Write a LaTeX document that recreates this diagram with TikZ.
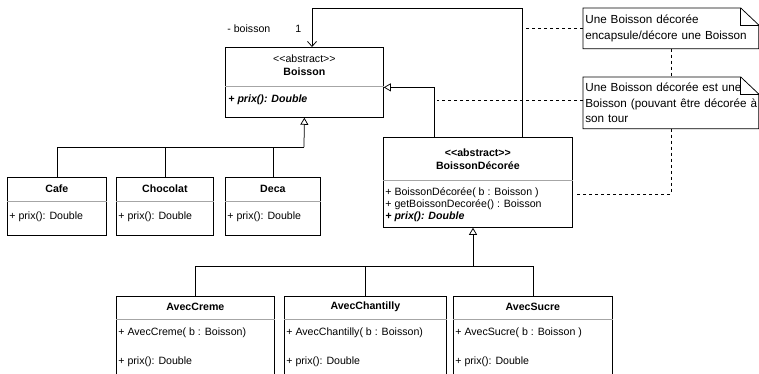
\documentclass[tikz,border=0pt]{standalone}
\usepackage{fontspec}
\setmainfont{Liberation Sans}
\usetikzlibrary{arrows.meta}

\begin{document}
\begin{tikzpicture}[x=1pt,y=-1pt,line width=0.75pt,
  classbox/.style={draw,anchor=north west,inner sep=0pt},
  classname/.style={font=\fontsize{10.6}{13}\selectfont\bfseries,inner sep=0pt},
  stereo/.style={font=\fontsize{10.6}{13}\selectfont,inner sep=0pt},
  member/.style={font=\fontsize{10.6}{13}\selectfont,anchor=west,inner sep=0pt},
  divider/.style={draw=black!35},
  gen/.style={-{Triangle[open,length=7pt,width=8pt]}},
  assoc/.style={-{Straight Barb[length=5pt,width=9pt]}},
  notebox/.style={anchor=north west,minimum width=175pt,text width=171pt,inner sep=2pt,
    align=left,font=\fontsize{11.7}{15.5}\selectfont},
  notelink/.style={dash pattern=on 3pt off 3pt}]
  \useasboundingbox (0,0) rectangle (759,374);
  \clip (0,0) rectangle (759,374);

  % Boisson
  \node[classbox,minimum width=158pt,minimum height=70pt] (boisson) at (225,47) {};
  \node[stereo] (boisson-stereo) at (boisson.north |- 0,59) {<\kern0pt<abstract>\kern0pt>};
  \node[classname] (boisson-title) at (boisson.north |- 0,72) {Boisson};
  \draw[divider] (boisson.west |- 0,86) -- (boisson.east |- 0,86);
  \node[member,font=\fontsize{10.6}{13}\selectfont\bfseries\itshape] (boisson-prix) at (228,100) {+ prix(): Double};

  % BoissonDecoree
  \node[classbox,minimum width=189pt,minimum height=90pt] (bdeco) at (383,137) {};
  \node[classname] (bdeco-stereo) at (bdeco.north |- 0,153) {<\kern0pt<abstract>\kern0pt>};
  \node[classname] (bdeco-title) at (bdeco.north |- 0,166) {BoissonDécorée};
  \draw[divider] (bdeco.west |- 0,180) -- (bdeco.east |- 0,180);
  \node[member] (bdeco-ctor) at (385,193) {+ BoissonDécorée( b : Boisson )};
  \node[member] (bdeco-get) at (385,205) {+ getBoissonDecorée() : Boisson};
  \node[member,font=\fontsize{10.6}{13}\selectfont\bfseries\itshape] (bdeco-prix) at (385,217) {+ prix(): Double};

  % boissons simples
  \foreach \name/\lab/\x/\w in {cafe/Cafe/7/99,chocolat/Chocolat/116/97,deca/Deca/225/95} {
    \node[classbox,minimum width=\w pt,minimum height=58pt] (\name) at (\x,177) {};
    \node[classname] (\name-title) at (\name.north |- 0,189) {\lab};
    \draw[divider] (\name.west |- 0,201) -- (\name.east |- 0,201);
    \node[member] (\name-prix) at (\x+2,217) {+ prix(): Double};
  }

  % decorateurs
  \foreach \name/\lab/\x/\w/\ctor in {avecCreme/AvecCreme/116/158/{+ AvecCreme( b : Boisson)},
      avecChantilly/AvecChantilly/284/162/{+ AvecChantilly( b : Boisson)},
      avecSucre/AvecSucre/453/159/{+ AvecSucre( b : Boisson )}} {
    \node[classbox,minimum width=\w pt,minimum height=100pt] (\name) at (\x,296) {};
    \node[classname] (\name-title) at (\name.north |- 0,307) {\lab};
    \draw[divider] (\name.west |- 0,319) -- (\name.east |- 0,319);
    \node[member] (\name-ctor) at (\x+2,333) {\ctor};
    \node[member] (\name-prix) at (\x+2,362) {+ prix(): Double};
  }

  % heritage
  \coordinate (junction1) at (304,147);
  \foreach \name in {cafe,chocolat,deca}
    \draw (\name.north) |- (junction1);
  \draw[gen] (junction1) -- (boisson.south);
  \coordinate (junction2) at (473,266);
  \foreach \name in {avecCreme,avecChantilly,avecSucre}
    \draw (\name.north) |- (junction2);
  \draw[gen] (junction2) -- (junction2 |- bdeco.south);
  \draw[gen] ([xshift=-43.5pt]bdeco.north) |- ([yshift=-5pt]boisson.east);

  % association
  \coordinate (assoctop) at (312,8);
  \draw[assoc] ([xshift=44.5pt]bdeco.north) |- (assoctop) -- (assoctop |- boisson.north);
  \node[member] (role) at (227,29) {- boisson};
  \node[member] (mult) at (295,29) {1};

  % notes
  \node[notebox,minimum height=40pt] (note1) at (583,8)
    {\mbox{Une Boisson décorée}\\\mbox{encapsule/décore une Boisson}};
  \node[notebox,minimum height=51pt] (note2) at (583,77)
    {\mbox{Une Boisson décorée est une}\\\mbox{Boisson (pouvant être décorée à}\\\mbox{son tour}};
  \foreach \n in {note1,note2} {
    \draw (\n.north west) -- ([xshift=-18pt]\n.north east) -- ([yshift=-17pt]\n.north east)
      -- (\n.south east) -- (\n.south west) -- cycle;
    \draw ([xshift=-18pt]\n.north east) |- ([yshift=-17pt]\n.north east);
  }
  \draw[notelink] (note1.west) -- (note1.west -| 525,0);
  \draw[notelink] (note1.south) -- (note2.north);
  \draw[notelink] (note2.west |- 0,100) -- (437,100);
  \draw[notelink] (note2.south) |- ([xshift=4pt]bdeco.east |- 0,194);
\end{tikzpicture}
\end{document}
